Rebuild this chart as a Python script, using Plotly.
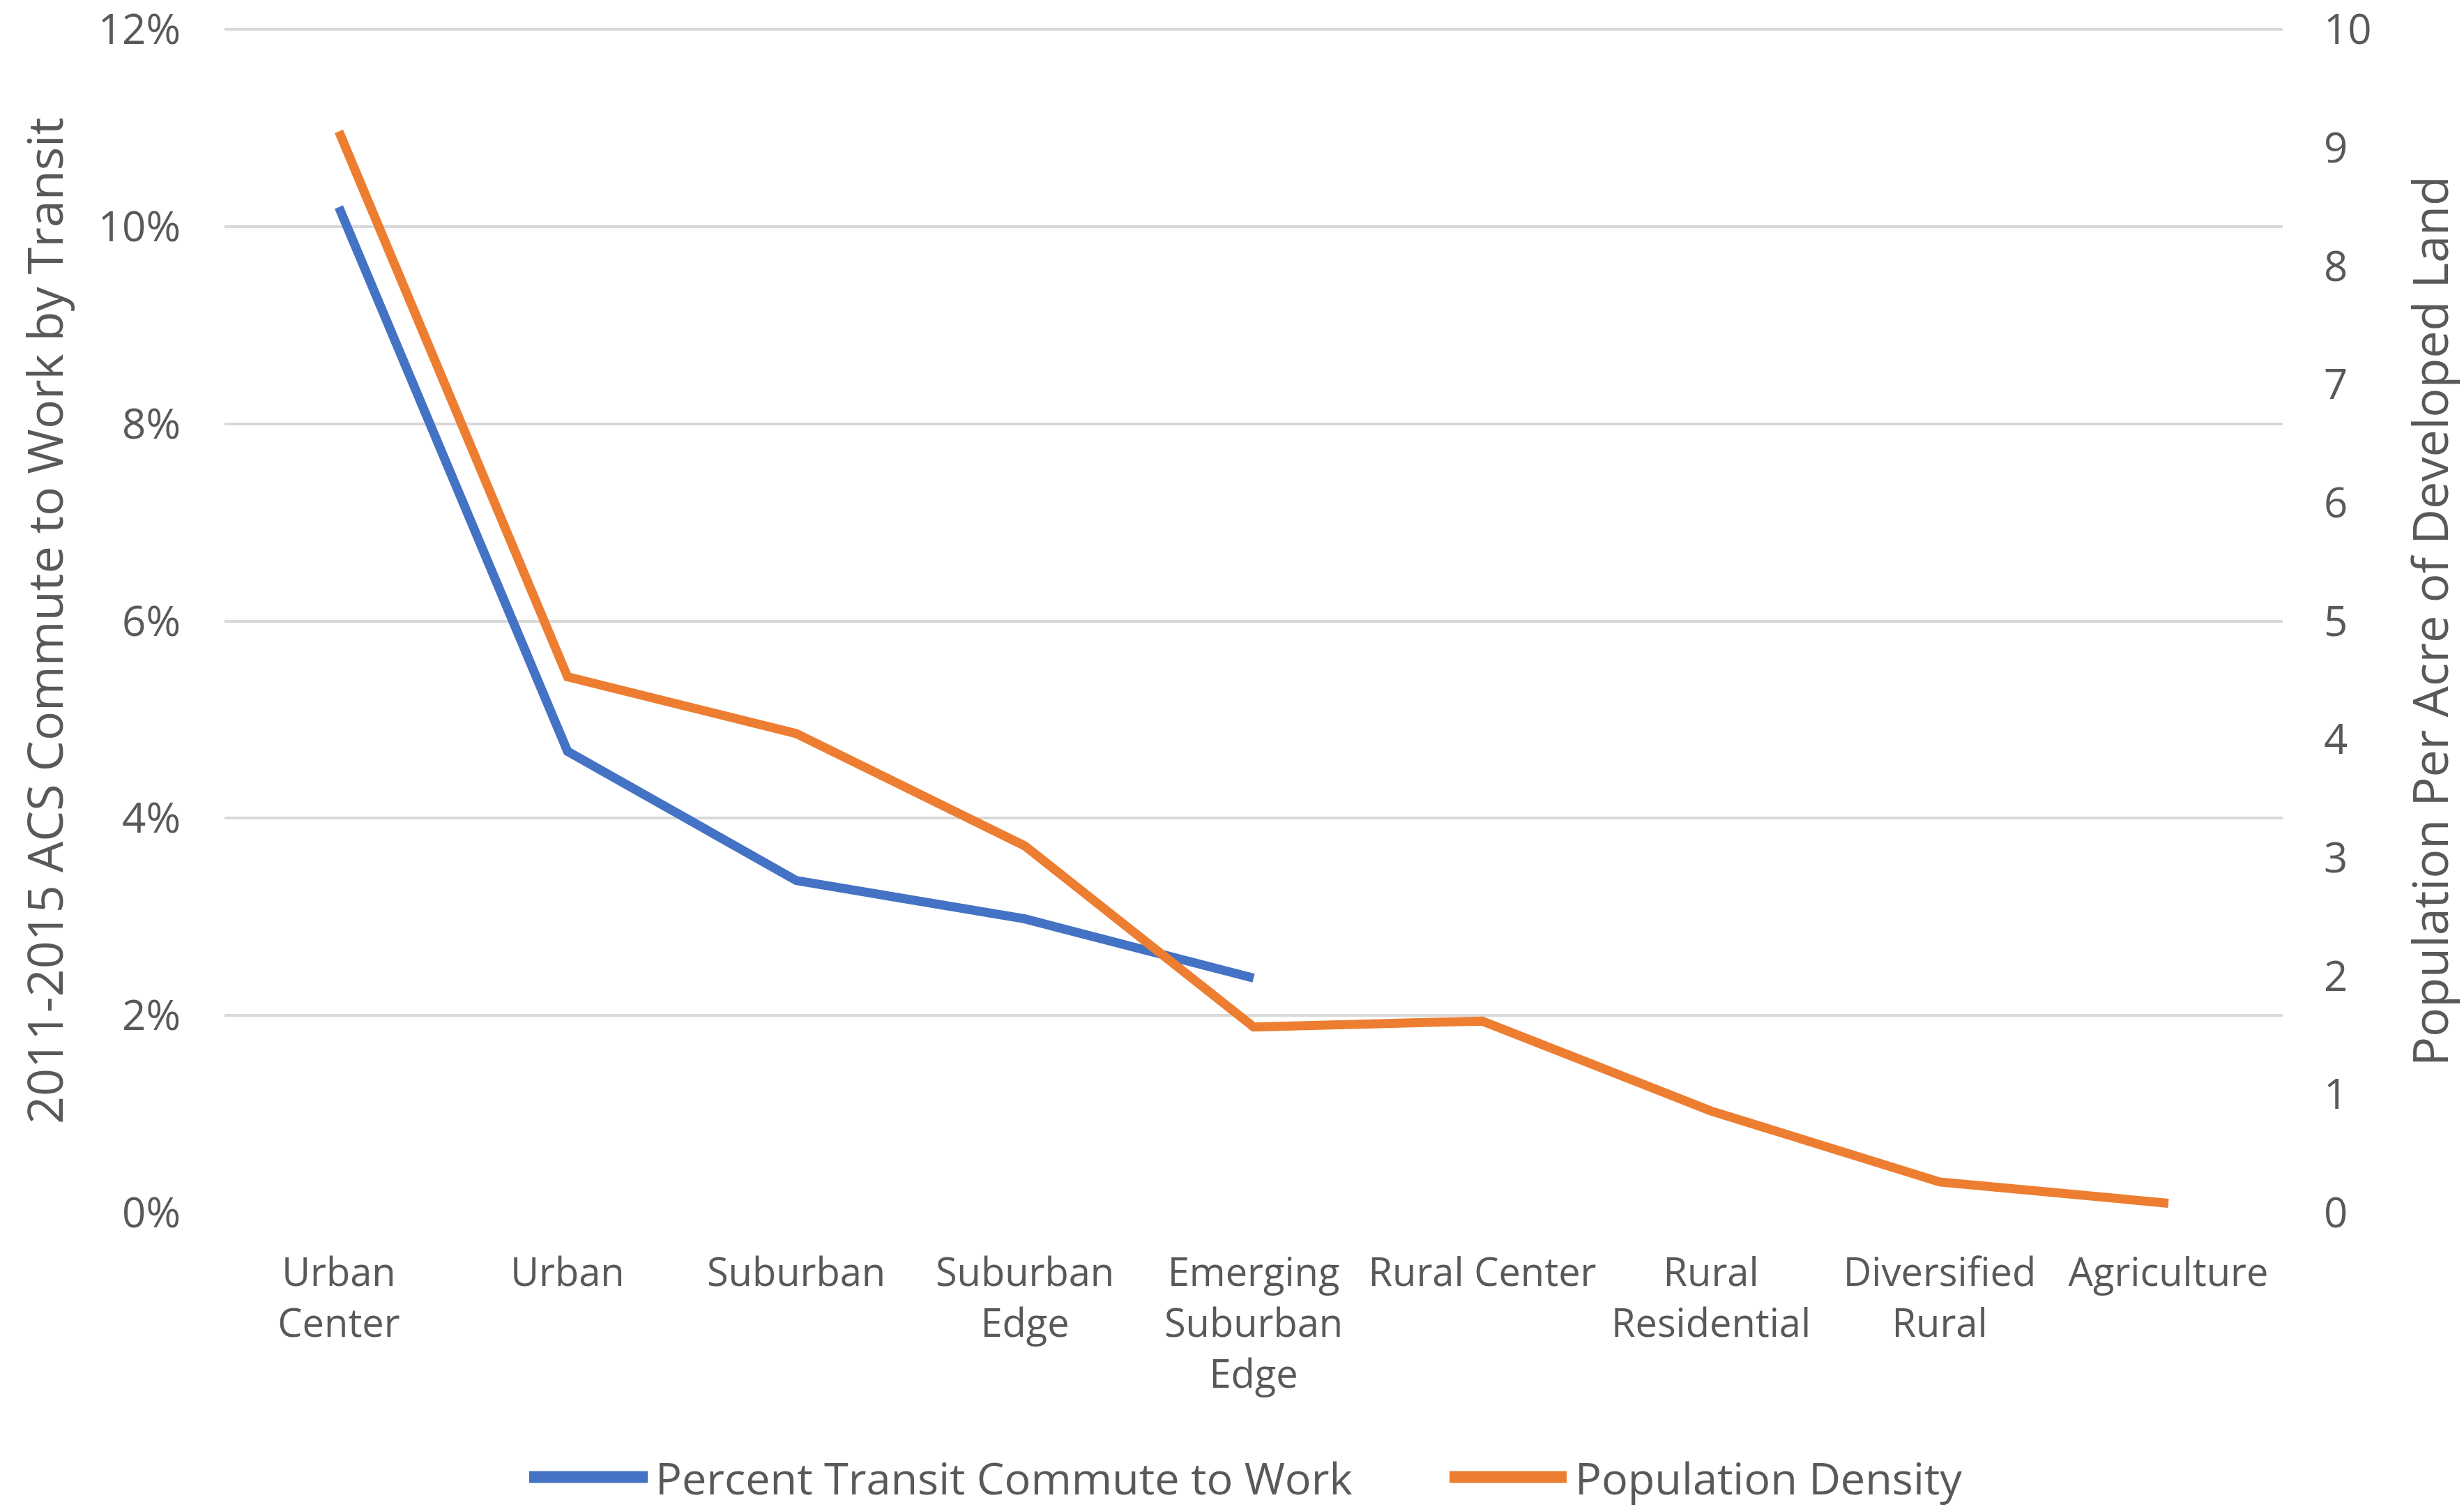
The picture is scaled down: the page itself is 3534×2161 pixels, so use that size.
import plotly.graph_objects as go

# Place types, ordered from most to least urban
categories = [
    "Urban Center", "Urban", "Suburban", "Suburban Edge",
    "Emerging Suburban Edge", "Rural Center", "Rural Residential",
    "Diversified Rural", "Agriculture",
]
tick_labels = [
    "Urban<br>Center", "Urban", "Suburban", "Suburban<br>Edge",
    "Emerging<br>Suburban<br>Edge", "Rural Center", "Rural<br>Residential",
    "Diversified<br>Rural", "Agriculture",
]

# Share of workers commuting by transit (2011-2015 ACS); no value for rural types
transit_share = [0.102, 0.0468, 0.0337, 0.0298, 0.0238, None, None, None, None]

# Residents per acre of developed land
pop_density = [9.14, 4.53, 4.05, 3.10, 1.57, 1.62, 0.86, 0.26, 0.08]

series_names = ["Percent Transit Commute to Work", "Population Density"]

# Axis ticks
pct_ticks = [0, 0.02, 0.04, 0.06, 0.08, 0.10, 0.12]
density_ticks = [0, 1, 2, 3, 4, 5, 6, 7, 8, 9, 10]

BLUE = "#4472C4"
ORANGE = "#ED7D31"
TEXT = "#595959"
GRID = "#D9D9D9"
FONT = "Open Sans"

fig = go.Figure()
fig.add_trace(go.Scatter(
    x=categories, y=transit_share, name=series_names[0], mode="lines",
    line=dict(color=BLUE, width=13), connectgaps=False, yaxis="y",
))
fig.add_trace(go.Scatter(
    x=categories, y=pop_density, name=series_names[1], mode="lines",
    line=dict(color=ORANGE, width=13), yaxis="y2",
))

# Ranges run a hair past the top tick so the top gridline is kept
HEAD = 1.005
W, H = 3534, 2161
L, R, B = 322, 260, 422
T = round(42 - (1739 - 42) * (HEAD - 1))
PW, PH = W - L - R, H - T - B


def px_x(x):
    """Horizontal pixel position -> paper coordinate."""
    return (x - L) / PW


def px_y(y):
    """Vertical pixel position (from top) -> paper coordinate."""
    return (H - B - y) / PH


fig.update_layout(
    width=W, height=H,
    margin=dict(l=L, r=R, t=T, b=B, autoexpand=False),
    paper_bgcolor="white", plot_bgcolor="white",
    font=dict(family=FONT, color=TEXT),
    showlegend=False,
    xaxis=dict(
        type="category", tickvals=categories, ticktext=tick_labels,
        tickfont=dict(size=56, color=TEXT), showgrid=False, zeroline=False,
        showline=False, ticks="", ticklabelstandoff=48,
        range=[-0.5, len(categories) - 0.5],
    ),
    yaxis=dict(
        range=[0, pct_ticks[-1] * HEAD], tickvals=pct_ticks,
        tickformat=".0%", ticklabeloverflow="allow",
        tickfont=dict(size=60, color=TEXT), showgrid=True, gridcolor=GRID,
        gridwidth=4, zeroline=False, showline=False, ticks="",
        ticklabelstandoff=62,
    ),
    yaxis2=dict(
        range=[0, density_ticks[-1] * HEAD], tickvals=density_ticks,
        overlaying="y", side="right", ticklabeloverflow="allow",
        tickfont=dict(size=60, color=TEXT), showgrid=False, zeroline=False,
        showline=False, ticks="", ticklabelstandoff=58,
    ),
)

# Axis titles
fig.add_annotation(
    text="2011-2015 ACS Commute to Work by Transit", textangle=-90,
    xref="paper", yref="paper", x=px_x(63), y=px_y(890),
    xanchor="center", yanchor="middle", showarrow=False,
    font=dict(size=70, color=TEXT, family=FONT),
)
fig.add_annotation(
    text="Population Per Acre of Developed Land", textangle=-90,
    xref="paper", yref="paper", x=px_x(3484), y=px_y(890),
    xanchor="center", yanchor="middle", showarrow=False,
    font=dict(size=70, color=TEXT, family=FONT),
)

# Legend drawn below the plot: swatch line + label for each series
legend_y = px_y(2118)
swatches = [(759, 929, 938, BLUE, series_names[0]), (2079, 2247, 2257, ORANGE, series_names[1])]
for x0, x1, xt, color, label in swatches:
    fig.add_shape(
        type="line", xref="paper", yref="paper",
        x0=px_x(x0), x1=px_x(x1), y0=legend_y, y1=legend_y,
        line=dict(color=color, width=17),
    )
    fig.add_annotation(
        text=label, xref="paper", yref="paper",
        x=px_x(xt), y=legend_y, xanchor="left", yanchor="middle",
        showarrow=False, font=dict(size=63, color=TEXT, family=FONT),
    )

fig.write_html("out.html")
